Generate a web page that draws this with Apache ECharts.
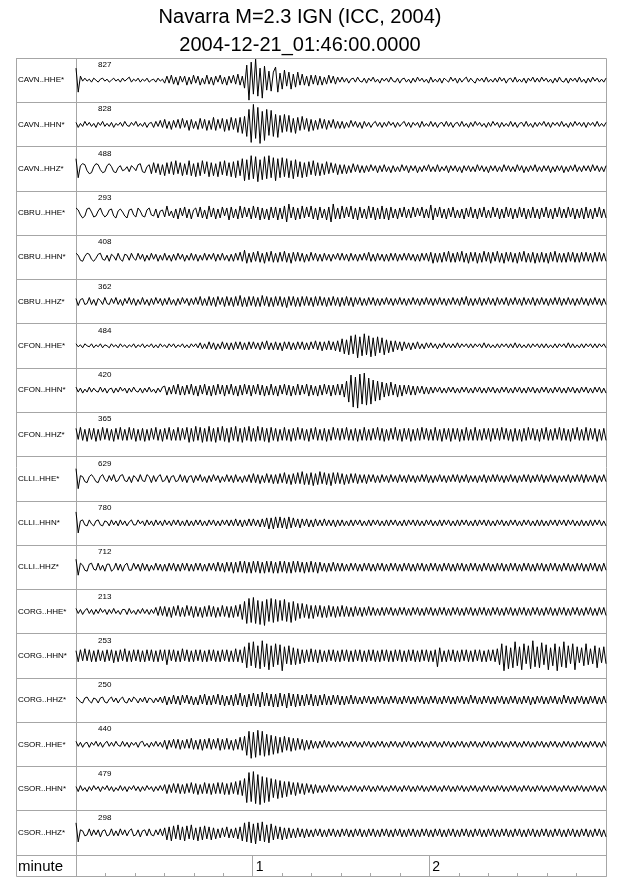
<!DOCTYPE html>
<html><head><meta charset="utf-8">
<script src="https://cdn.jsdelivr.net/npm/echarts@6/dist/echarts.min.js"></script>
<style>html,body{margin:0;padding:0;background:#fff}#c{width:640px;height:878px}</style>
</head><body><div id="c"></div>
<script>
const titleLines = ['Navarra M=2.3 IGN (ICC, 2004)', '2004-12-21_01:46:00.0000'];
const stations = ['CAVN..HHE*','CAVN..HHN*','CAVN..HHZ*','CBRU..HHE*','CBRU..HHN*','CBRU..HHZ*','CFON..HHE*','CFON..HHN*','CFON..HHZ*','CLLI..HHE*','CLLI..HHN*','CLLI..HHZ*','CORG..HHE*','CORG..HHN*','CORG..HHZ*','CSOR..HHE*','CSOR..HHN*','CSOR..HHZ*'];
const amplitudes = ['827','828','488','293','408','362','484','420','365','629','780','712','213','253','250','440','479','298'];
const timeRange = [0, 3];           // minutes
const minuteLabels = [1, 2];
const axisName = 'minute';

// trace samples (pixel-scale deflection, + = up)
const tCAVN_HHE = [12,-12,4,-1,2,-1,1,-2,2,0, -2,1,2,-1,1,-2,0,2,-1,1, -2,2,-1,1,3,-2,1,-1,2,-2, 1,-1,2,-2,0,1,-2,2,-1,1, -3,4,-3,5,-4,3,-5,4,-2,4, -5,3,-4,5,-3,4,-5,2,-4,5, -4,3,-5,4,-2,5,-4,3,-5,4, -3,5,-4,6,-5,4,-8,15,-20,18, -14,21,-16,12,-18,14,-10,9,-11,8, 13,-12,7,-9,10,-6,8,-9,6,-7, 8,-5,6,-5,4,-6,5,-4,5,-5, 4,-5,3,-4,5,-3,4,-4,3,-2, 3,-2,2,-3,1,2,-2,3,-1,-2, 2,-3,2,-1,3,-2,1,-3,2,-1, 2,-2,3,-1,-2,2,-3,1,2,-2, 1,-3,2,-2,3,-1,2,-2,1,-3, 3,-2,1,-2,2,-3,2,0,-2,3, -1,2,-3,2,-2,1,3,-2,2,-1, -3,2,-1,2,-2,3,-2,1,-2,2, -2,3,-1,2,-3,1,2,-2,3,-2, 1,-2,2,-3,2,-1,3,-2,2,-2, 3,-1,2,-2,1,-3,2,-2,3,-1, -2,2,-3,2,-1,2,-2,3,-2,1, -3,2,-2,3,-1,2,-2,1,-2,2];
const tCAVN_HHN = [2,-3,1,-2,3,-1,2,-2,1,-3, 2,-1,3,-2,1,-2,2,-3,1,-1, 2,-2,3,-1,-2,2,-1,3,-2,1, -2,2,-3,1,2,-3,3,-2,4,-3, 5,-4,3,-5,4,-3,5,-4,6,-3, 4,-6,5,-4,3,-5,6,-4,5,-6, 4,-5,7,-6,5,-4,6,-7,5,-6, 7,-5,6,-8,7,-9,8,-12,15,-18, 20,-14,17,-19,13,-16,15,-11,14,-12, 10,-13,9,-8,10,-7,9,-8,6,-9, 7,-6,8,-5,6,-7,5,-6,4,-5, 6,-4,5,-5,4,-3,5,-4,3,-4, 3,-4,2,-3,4,-2,3,-3,2,-4, 3,-2,2,-3,1,3,-2,2,-3,2, -2,3,-1,2,-3,2,-2,1,3,-2, 2,-3,2,-1,2,-3,3,-2,1,-2, 3,-2,2,-3,1,2,-2,3,-2,2, -3,1,2,-2,3,-2,1,-3,2,-2, 3,-1,2,-2,1,-3,2,-2,3,-1, 2,-3,2,-2,1,-2,3,-2,2,-3, 1,2,-2,3,-2,1,-3,2,-2,2, -1,3,-2,2,-3,2,-1,2,-2,3, -2,1,-3,2,-2,3,-1,2,-2,2, -3,2,-1,2,-2,3,-2,1,-2,2];
const tCAVN_HHZ = [10,-9,3,5,4,-2,-5,-4,2,5, 4,-1,-4,-3,3,5,2,-3,-4,1, 3,-2,-1,2,-3,3,1,-2,4,5, -3,-4,2,4,-5,6,-4,5,-6,4, -7,6,-5,7,-6,8,-5,6,-7,5, -6,8,-7,5,-8,6,-7,8,-5,7, -8,6,-7,5,-8,7,-6,8,-7,6, -8,7,-9,8,-7,10,-12,9,-11,13, -10,12,-13,9,-11,12,-10,13,-9,11, -12,10,-9,11,-8,10,-9,8,-10,9, -8,7,-9,6,-8,7,-6,8,-7,6, -7,5,-6,7,-5,6,-4,5,-6,4, -5,4,-5,3,-4,5,-3,4,-4,3, -4,3,-3,4,-2,3,-4,3,-3,4, -3,2,-4,3,-3,2,-3,4,-2,3, -4,3,-2,3,-4,2,-3,3,-2,4, -3,2,-3,4,-3,2,-2,3,-4,3, -2,3,-3,2,-4,3,-2,3,-3,2, -3,4,-2,3,-3,2,-4,3,-2,3, -3,2,-3,4,-2,3,-3,2,-3,4, -2,3,-4,2,-3,3,-2,4,-3,2, -3,3,-2,3,-4,2,-3,3,-2,3, -4,2,-3,3,-2,4,-3,2,-3,3, -2,3,-3,4,-2,3,-3,2,-3,3];
const tCBRU_HHE = [5,3,-2,-5,-3,4,5,1,-4,-3, 2,5,-1,-4,-2,3,4,-3,-5,2, 4,1,-3,-5,3,4,-2,-4,5,2, -3,-4,3,5,-2,-3,4,-5,2,3, -4,7,-3,2,-5,4,-6,5,-3,6, -5,4,-6,3,5,-4,6,-5,3,-6, 7,-4,5,-6,4,-5,6,-3,5,-7, 6,-5,4,-6,7,-5,6,-4,5,-6, 7,-5,6,-7,5,-6,4,-7,6,-5, 6,-7,5,-6,7,-9,9,-5,6,-7, 5,-6,7,-5,6,-4,7,-6,5,-7, 6,-5,4,-7,6,-9,9,-6,5,-6, 7,-5,6,-4,7,-6,5,-7,6,-5, 4,-6,7,-5,6,-7,5,-6,7,-6, 5,-7,6,-5,4,-6,5,-4,6,-5, 4,-5,6,-4,5,-3,6,-5,4,-5, 8,-7,5,-4,6,-5,4,-6,5,-4, 6,-5,3,-5,4,-6,5,-4,6,-5, 4,-6,5,-4,6,-5,3,-5,6,-4, 5,-6,4,-5,6,-4,5,-6,4,-5, 6,-4,5,-6,4,-5,6,-5,4,-6, 5,-4,6,-5,4,-6,5,-4,6,-5, 4,-5,6,-4,5,-6,4,-5,5,-6, 6,-5,4,-6,5,-4,6,-5,4,-5];
const tCBRU_HHN = [4,2,-3,-4,1,4,3,-2,-4,-1, 3,4,-2,-3,2,-4,3,1,-3,4, -2,-4,3,2,-3,4,-1,-3,4,-2, 3,-4,2,-3,4,-2,3,-4,2,-3, 4,-3,2,-4,3,-3,4,-2,3,-4, 2,-3,4,-3,3,-4,2,-3,4,-3, 3,-2,4,-4,3,-3,4,-3,2,-4, 3,-4,4,-3,5,-4,7,-6,4,-5, 5,-4,6,-5,4,-6,5,-4,6,-5, 4,-5,5,-4,6,-5,4,-6,5,-4, 5,-4,4,-5,3,-4,5,-3,4,-4, 3,-4,4,-3,3,-4,3,-2,4,-3, 4,-3,3,-4,4,-3,3,-4,3,-3, 4,-3,5,-4,3,-4,4,-3,3,-4, 3,-4,4,-3,4,-4,3,-3,4,-3, 4,-3,3,-4,3,-4,4,-3,4,-4, 5,-6,4,-5,4,-5,5,-4,6,-5, 4,-5,5,-4,6,-5,4,-6,5,-4, 5,-6,4,-5,6,-4,5,-6,5,-4, 6,-5,4,-6,5,-4,5,-5,4,-6, 5,-4,6,-5,4,-5,5,-6,4,-5, 5,-5,4,-6,5,-4,6,-5,4,-5, 4,-5,5,-4,5,-5,4,-5,5,-4, 5,-4,4,-5,5,-4,5,-4,4,-4];
const tCBRU_HHZ = [3,-4,2,3,-3,-2,4,-3,2,-4, 3,1,-3,4,-2,-3,3,-2,4,-3, 2,-4,3,-2,4,-3,3,-4,2,-3, 4,-3,2,-4,3,-3,4,-2,3,-4, 3,-3,4,-3,2,-4,3,-3,4,-2, 3,-4,3,-3,4,-3,5,-4,3,-4, 5,-4,4,-5,5,-3,4,-5,5,-4, 4,-5,5,-4,6,-5,4,-5,5,-4, 5,-5,4,-5,6,-4,5,-5,4,-5, 5,-4,5,-5,4,-6,5,-4,5,-5, 4,-5,5,-4,5,-4,4,-5,5,-4, 5,-4,4,-5,4,-4,5,-4,4,-5, 4,-4,5,-4,4,-5,4,-3,4,-4, 3,-4,4,-3,4,-4,3,-4,3,-3, 4,-3,3,-4,3,-3,4,-3,3,-4, 3,-3,4,-3,3,-4,3,-3,4,-3, 3,-4,3,-3,4,-3,3,-4,3,-3, 4,-3,3,-4,4,-3,5,-4,3,-4, 3,-3,4,-4,3,-3,4,-3,3,-4, 4,-3,3,-3,4,-4,3,-3,4,-3, 3,-4,4,-3,3,-3,4,-4,3,-3, 4,-3,3,-4,3,-3,4,-3,4,-4, 3,-3,4,-3,3,-4,3,-3,4,-3, 3,-4,3,-3,4,-3,3,-4,3,-3];
const tCFON_HHE = [2,-1,1,-2,2,0,-1,2,-2,1, -1,2,-2,1,0,-2,2,-1,1,-2, 2,-1,1,-2,1,-1,2,-2,1,-1, 2,-2,1,-1,2,-2,1,-2,2,-1, 1,-2,2,-1,2,-2,1,-1,2,-2, 1,-2,2,-1,2,-2,3,-3,2,-3, 4,-3,3,-4,2,-3,4,-3,3,-4, 3,-4,4,-3,4,-4,3,-4,4,-3, 4,-3,3,-4,4,-3,5,-4,3,-4, 4,-4,3,-5,4,-3,4,-4,3,-4, 4,-3,4,-4,3,-4,4,-3,5,-4, 4,-5,4,-4,5,-4,4,-5,5,-6, 7,-8,6,-9,10,-8,11,-12,9,-10, 12,-9,10,-11,8,-10,9,-7,8,-9, 6,-7,5,-6,5,-4,4,-5,4,-3, 3,-4,3,-3,4,-3,2,-3,3,-2, 3,-2,2,-3,2,-2,3,-2,2,-2, 2,-2,3,-2,2,-1,2,-2,2,-2, 2,-1,2,-2,3,-2,2,-2,1,-2, 2,-2,2,-1,2,-2,2,-2,3,-2, 2,-2,1,-2,2,-2,2,-1,2,-2, 2,-2,2,-2,1,-2,2,-2,2,-1, 2,-2,3,-2,2,-2,1,-2,2,-2, 2,-1,2,-2,2,-2,2,-1,2,-2];
const tCFON_HHN = [3,-2,2,-3,1,-2,3,-2,2,-1, -2,3,-2,2,-3,1,2,-3,2,-2, 3,-1,2,-3,2,-2,3,-1,-2,2, -3,2,-2,3,-2,1,-3,2,-2,3, 4,-5,3,-4,5,-4,6,-5,4,-5, 5,-4,6,-5,4,-6,5,-4,6,-5, 4,-6,5,-5,6,-4,5,-6,5,-4, 6,-5,4,-6,5,-5,6,-4,5,-6, 5,-4,6,-5,5,-6,4,-5,6,-5, 4,-6,5,-4,6,-5,5,-6,4,-5, 6,-5,5,-4,6,-6,5,-5,4,-6, 5,-5,6,-4,5,-6,5,-5,6,-5, 6,-7,9,-12,15,-17,13,-18,16,-14, 17,-15,12,-14,10,-11,9,-10,8,-7, 7,-6,8,-5,6,-7,5,-6,5,-4, 5,-5,4,-5,4,-3,4,-4,3,-4, 3,-3,3,-2,3,-3,2,-3,3,-2, 3,-3,2,-3,3,-2,3,-3,2,-3, 3,-2,3,-3,2,-3,3,-2,3,-3, 2,-3,3,-2,3,-3,2,-3,3,-2, 3,-3,2,-3,3,-2,3,-3,2,-3, 3,-2,3,-3,2,-3,3,-2,3,-3, 2,-3,3,-2,3,-3,2,-3,3,-2, 3,-3,2,-3,3,-2,3,-3,2,-3];
const tCFON_HHZ = [6,-5,7,-6,5,-7,6,-5,6,-7, 5,-6,7,-5,6,-6,5,-7,6,-5, 7,-6,5,-6,7,-5,6,-7,5,-6, 6,-7,5,-6,6,-5,7,-6,5,-7, 6,-5,7,-6,5,-6,7,-6,6,-5, 7,-8,6,-7,8,-6,7,-8,6,-7, 8,-7,6,-8,7,-6,8,-7,6,-8, 7,-6,8,-7,6,-8,7,-6,8,-7, 6,-7,8,-6,7,-7,6,-8,7,-6, 6,-7,5,-6,7,-6,5,-7,6,-6, 7,-5,6,-6,5,-7,6,-5,7,-6, 5,-6,6,-7,5,-6,7,-5,6,-6, 6,-5,7,-6,5,-6,6,-7,5,-6, 7,-6,5,-6,6,-5,7,-6,6,-7, 5,-6,6,-5,7,-6,5,-7,6,-5, 6,-7,5,-6,6,-6,7,-5,6,-6, 5,-6,7,-6,5,-7,6,-5,6,-7, 6,-5,6,-7,5,-6,7,-6,5,-6, 7,-6,5,-6,6,-5,6,-7,6,-5, 6,-6,7,-5,6,-6,5,-7,6,-6, 5,-7,6,-6,7,-5,6,-6,5,-7, 6,-5,7,-6,5,-6,6,-5,7,-6, 6,-6,5,-7,6,-5,7,-6,5,-6, 7,-6,6,-5,6,-7,5,-6,6,-6];
const tCLLI_HHE = [10,-10,3,2,-3,-4,2,4,1,-3, -4,2,4,-1,-3,3,-2,4,-3,-2, 3,4,-2,-3,2,-4,3,1,-3,4, -2,-3,4,2,-4,3,-3,2,4,-3, -2,3,-4,2,3,-3,-2,4,-3,3, -4,2,3,-4,3,-2,4,-3,2,-4, 3,-3,4,-2,3,-4,2,-3,4,-3, 3,-4,4,-3,2,-4,3,-3,4,-4, 5,-4,4,-5,3,-4,5,-4,4,-5, 4,-5,5,-4,6,-5,4,-6,5,-5, 6,-5,7,-6,5,-6,6,-7,5,-6, 7,-5,6,-6,5,-7,6,-5,6,-5, 5,-6,4,-5,5,-4,5,-5,4,-4, 4,-5,4,-3,4,-4,3,-4,4,-3, 3,-4,4,-3,3,-4,4,-3,3,-4, 4,-3,3,-4,3,-3,4,-3,4,-4, 3,-4,3,-3,4,-3,3,-4,3,-3, 4,-3,4,-4,3,-3,4,-4,3,-3, 3,-4,3,-3,4,-4,3,-3,4,-3, 4,-3,3,-4,3,-3,4,-3,3,-4, 3,-3,4,-3,4,-4,3,-3,4,-3, 4,-4,3,-3,4,-3,3,-4,3,-3, 3,-3,4,-4,3,-3,4,-3,4,-4, 4,-3,3,-3,4,-4,3,-3,4,-3];
const tCLLI_HHN = [11,-10,2,3,-2,-3,3,-1,-3,2, 3,-2,-3,2,1,-3,3,-2,2,-3, 3,-2,2,-3,1,3,-2,-2,3,-1, 2,-3,3,-2,2,-3,3,-2,2,-3, 3,-2,2,-3,3,-2,3,-3,2,-3, 3,-3,2,-3,3,-2,3,-3,2,-3, 3,-2,3,-3,2,-3,3,-2,3,-3, 3,-3,4,-3,3,-4,3,-3,4,-3, 4,-3,3,-4,4,-4,5,-6,5,-6, 6,-5,6,-5,5,-6,6,-5,5,-4, 4,-5,4,-3,4,-4,3,-4,4,-3, 3,-3,4,-3,3,-3,3,-4,3,-3, 3,-3,2,-3,3,-3,3,-2,3,-3, 2,-3,3,-3,3,-2,3,-3,2,-3, 3,-3,3,-2,3,-3,2,-3,3,-3, 3,-2,3,-3,3,-3,2,-3,3,-2, 3,-3,2,-3,3,-3,3,-2,3,-3, 2,-3,3,-3,3,-2,3,-3,2,-3, 3,-3,3,-2,3,-3,3,-3,2,-3, 3,-2,3,-3,2,-3,3,-2,3,-3, 2,-3,3,-2,3,-3,2,-3,3,-3, 3,-3,2,-3,3,-2,3,-3,3,-2, 3,-3,3,-2,3,-3,2,-3,3,-3, 2,-3,3,-3,3,-2,3,-3,2,-3];
const tCLLI_HHZ = [8,-8,4,2,-3,-4,3,4,-2,-3, 4,-3,2,-4,3,3,-4,-2,4,-3, 3,-4,2,4,-3,-3,4,-2,3,-4, 4,-3,3,-4,2,-3,4,-3,3,-4, 3,-4,4,-3,4,-4,3,-4,4,-3, 4,-4,3,-4,4,-3,4,-4,3,-4, 4,-3,4,-4,5,-4,4,-5,5,-4, 5,-6,5,-5,6,-5,6,-6,5,-6, 6,-5,6,-6,5,-6,6,-5,6,-6, 5,-6,6,-5,6,-6,5,-6,6,-5, 6,-5,5,-6,5,-5,6,-5,5,-6, 5,-4,4,-5,4,-4,5,-4,4,-4, 4,-4,3,-4,4,-3,4,-4,3,-4, 4,-3,4,-4,3,-4,4,-3,4,-4, 3,-4,4,-3,4,-4,3,-4,4,-3, 4,-4,3,-4,4,-3,4,-4,3,-4, 4,-3,4,-4,3,-4,4,-3,4,-4, 3,-4,4,-3,4,-4,3,-4,4,-3, 4,-4,3,-4,4,-3,4,-4,3,-4, 4,-3,4,-4,3,-4,4,-3,4,-4, 3,-4,4,-3,4,-4,3,-4,4,-3, 4,-4,3,-4,4,-3,4,-4,3,-4, 4,-3,4,-4,3,-4,4,-3,4,-4, 3,-4,4,-3,4,-4,3,-4,4,-3];
const tCORG_HHE = [3,-2,2,-3,1,3,-2,2,-3,2, -2,3,-1,2,-3,2,-2,3,-2,1, -3,2,2,-3,3,-2,1,-3,2,-2, 3,-2,2,-3,2,-2,4,-4,5,-4, 5,-5,4,-6,5,-4,6,-5,4,-5, 6,-4,5,-6,5,-5,4,-6,5,-5, 6,-5,5,-6,4,-5,6,-5,5,-6, 5,-6,6,-5,7,-8,10,-12,13,-11, 14,-12,11,-13,10,-14,12,-10,13,-11, 12,-10,11,-9,12,-10,9,-11,10,-9, 8,-7,8,-6,7,-7,6,-7,6,-5, 6,-6,5,-6,6,-5,5,-6,5,-5, 6,-5,5,-5,4,-5,5,-4,4,-5, 4,-4,5,-4,4,-4,3,-4,4,-4, 4,-3,4,-4,3,-4,4,-3,4,-4, 3,-4,4,-3,4,-4,3,-4,4,-3, 4,-4,3,-4,4,-3,4,-4,3,-4, 4,-3,4,-4,3,-4,4,-3,4,-4, 3,-4,4,-3,4,-4,3,-4,4,-3, 4,-4,3,-4,4,-3,4,-4,3,-4, 4,-3,4,-4,3,-4,4,-3,4,-4, 3,-4,4,-3,4,-4,3,-4,4,-3, 4,-4,3,-4,4,-3,4,-4,3,-4, 4,-3,4,-4,3,-4,4,-3,4,-4];
const tCORG_HHN = [5,-6,6,-5,7,-5,6,-6,5,-6, 6,-5,5,-6,6,-5,6,-7,5,-6, 6,-5,7,-6,5,-6,6,-5,6,-6, 5,-6,6,-5,6,-6,5,-6,6,-5, 6,-9,6,-5,6,-6,5,-6,7,-5, 6,-6,5,-6,6,-5,6,-6,5,-6, 6,-5,6,-6,5,-6,6,-5,6,-6, 5,-6,7,-6,6,-7,9,-12,13,-10, 14,-12,10,-13,15,-11,12,-14,10,-11, 12,-9,11,-15,9,-8,10,-9,8,-9, 7,-8,6,-7,6,-6,7,-6,6,-7, 6,-6,5,-6,6,-5,6,-6,5,-6, 6,-5,6,-6,5,-6,6,-5,6,-6, 5,-6,6,-5,6,-6,5,-6,6,-5, 6,-6,5,-6,6,-5,6,-6,5,-6, 6,-5,6,-6,5,-6,6,-5,6,-6, 5,-6,6,-11,8,-6,5,-6,6,-5, 6,-6,5,-6,6,-5,6,-6,5,-6, 6,-5,6,-6,5,-6,6,-5,6,-6, 7,-9,12,-15,10,-13,8,-12,14,-10, 9,-14,12,-8,10,-13,15,-11,9,-12, 13,-9,11,-14,8,-10,12,-15,9,-11, 14,-12,10,-8,12,-14,9,-7,8,-10, 12,-9,7,-8,10,-12,8,-7,9,-8];
const tCORG_HHZ = [3,1,-2,-3,2,3,-1,-3,2,1, -3,2,3,-2,-3,1,3,-2,2,-3, 1,3,-2,-3,2,-2,3,1,-3,2, -2,3,-3,2,1,-3,2,-2,3,-3, 4,-5,3,-4,5,-4,4,-5,5,-3, 5,-4,4,-5,3,-5,5,-4,6,-5, 4,-5,5,-4,6,-5,5,-6,4,-5, 5,-6,6,-5,7,-6,5,-7,6,-6, 7,-6,6,-7,8,-6,7,-6,6,-7, 6,-7,7,-6,6,-8,7,-6,6,-7, 6,-6,5,-6,6,-5,6,-6,5,-6, 5,-5,6,-5,4,-5,5,-4,5,-5, 4,-5,4,-4,5,-4,4,-4,3,-4, 4,-3,4,-4,3,-4,4,-3,4,-4, 3,-4,4,-3,4,-4,3,-4,4,-3, 4,-4,3,-4,4,-3,4,-4,3,-4, 4,-3,4,-4,3,-4,4,-3,4,-4, 3,-4,4,-3,4,-4,3,-4,5,-3, 4,-4,3,-4,4,-3,4,-4,3,-4, 4,-3,4,-4,3,-4,4,-3,4,-4, 3,-4,4,-3,4,-5,3,-4,4,-3, 4,-4,3,-4,4,-3,4,-4,3,-4, 5,-3,4,-4,3,-4,4,-3,4,-4, 3,-4,4,-3,4,-4,3,-4,4,-3];
const tCSOR_HHE = [3,-2,2,-3,1,2,-3,2,-1,3, -2,2,-3,1,3,-2,2,-2,3,-1, -2,3,-2,2,-3,2,-1,2,-3,2, 3,-2,1,-3,2,-2,3,-2,2,-3, 4,-5,4,-3,5,-4,5,-5,4,-4, 5,-4,6,-5,4,-5,5,-6,5,-4, 6,-5,5,-4,6,-6,5,-5,6,-5, 4,-6,5,-5,7,-6,8,-11,13,-14, 12,-13,14,-11,13,-12,10,-11,9,-10, 8,-9,7,-8,8,-6,7,-7,6,-6, 6,-5,5,-6,4,-5,4,-4,3,-4, 3,-3,4,-3,3,-3,2,-3,3,-2, 3,-3,2,-3,3,-2,3,-3,2,-3, 3,-2,3,-3,2,-3,3,-2,3,-3, 2,-3,3,-2,3,-3,2,-3,3,-2, 3,-3,2,-3,3,-2,3,-3,2,-3, 3,-2,3,-3,2,-3,3,-2,3,-3, 2,-3,3,-2,3,-3,2,-3,3,-2, 3,-3,2,-3,3,-2,3,-3,2,-3, 3,-2,3,-3,2,-3,3,-2,3,-3, 2,-3,3,-2,3,-3,2,-3,3,-2, 3,-3,2,-3,3,-2,3,-3,2,-3, 3,-2,3,-3,2,-3,3,-2,3,-3, 2,-3,3,-2,3,-3,2,-3,3,-2];
const tCSOR_HHN = [2,-3,3,-2,1,-3,2,-2,3,-1, 2,-3,2,-1,3,-2,2,-3,1,-2, 3,-2,2,-3,2,-1,3,-2,2,-3, 2,-2,3,-1,2,-3,2,-2,3,-2, 4,-5,4,-4,5,-4,5,-5,4,-5, 5,-4,6,-5,5,-6,4,-5,6,-5, 5,-6,5,-5,6,-5,6,-6,5,-6, 6,-5,7,-6,8,-7,10,-14,16,-13, 17,-15,14,-16,12,-14,11,-13,10,-9, 9,-10,8,-9,7,-8,7,-6,6,-7, 6,-5,5,-6,5,-4,4,-5,4,-4, 3,-4,3,-3,4,-3,3,-3,3,-2, 3,-3,2,-3,3,-2,3,-3,2,-3, 3,-2,3,-3,2,-3,3,-2,3,-3, 2,-3,3,-2,3,-3,2,-3,3,-2, 3,-3,2,-3,3,-2,3,-3,2,-3, 3,-2,3,-3,2,-3,3,-2,3,-3, 2,-3,3,-2,3,-3,2,-3,3,-2, 3,-3,2,-3,3,-2,3,-3,2,-3, 3,-2,3,-3,2,-3,3,-2,3,-3, 2,-3,3,-2,3,-3,2,-3,3,-2, 3,-3,2,-3,3,-2,3,-3,2,-3, 3,-2,3,-3,2,-3,3,-2,3,-3, 2,-3,3,-2,3,-3,2,-3,3,-2];
const tCSOR_HHZ = [10,-9,3,2,-3,-2,4,-3,3,-2, 3,-4,2,3,-3,-2,4,-3,2,-3, 4,-2,3,-3,2,4,-3,-2,3,-4, 2,3,-3,4,-2,-3,3,-2,4,-3, 5,-7,6,-8,7,-6,8,-7,6,-8, 7,-6,8,-7,5,-8,6,-7,7,-6, 6,-7,5,-6,4,-5,5,-4,6,-5, 4,-5,5,-6,6,-8,10,-9,11,-10, 9,-11,10,-8,11,-9,8,-10,9,-7, 7,-6,6,-7,5,-6,5,-5,4,-5, 5,-4,4,-5,4,-4,3,-4,4,-3, 4,-4,3,-4,4,-3,4,-4,3,-4, 4,-3,4,-4,3,-4,4,-3,4,-4, 3,-4,4,-3,4,-4,3,-4,4,-3, 4,-4,3,-4,4,-3,4,-4,3,-4, 4,-3,4,-4,3,-4,4,-3,4,-4, 3,-4,4,-3,4,-4,3,-4,4,-3, 4,-4,3,-4,4,-3,4,-4,3,-4, 4,-3,4,-4,3,-4,4,-3,4,-4, 3,-4,4,-3,4,-4,3,-4,4,-3, 4,-4,3,-4,4,-3,4,-4,3,-4, 4,-3,4,-4,3,-4,4,-3,4,-4, 3,-4,4,-3,4,-4,3,-4,4,-3, 4,-4,3,-4,4,-3,4,-4,3,-4];

const traces = [tCAVN_HHE,tCAVN_HHN,tCAVN_HHZ,tCBRU_HHE,tCBRU_HHN,tCBRU_HHZ,tCFON_HHE,tCFON_HHN,tCFON_HHZ,tCLLI_HHE,tCLLI_HHN,tCLLI_HHZ,tCORG_HHE,tCORG_HHN,tCORG_HHZ,tCSOR_HHE,tCSOR_HHN,tCSOR_HHZ];

// layout
const BOX_L = 16, PLOT_L = 76, PLOT_R = 606, PLOT_T = 58, PLOT_B = 855, AXIS_B = 876;
const N = stations.length;
const ROW = (PLOT_B - PLOT_T) / N;
const GRAY = '#a6a6a6';
const FONT = '"Liberation Sans", Arial, Helvetica, sans-serif';

const chart = echarts.init(document.getElementById('c'), null, {renderer: 'canvas'});

const series = traces.map((tr, k) => {
  const base = (N - 1 - k) + 0.5;
  const span = timeRange[1] - timeRange[0];
  return {
    type: 'line', name: stations[k], xAxisIndex: 0, yAxisIndex: 0,
    showSymbol: false, symbol: 'none', clip: false, silent: true,
    lineStyle: {color: '#000', width: 1},
    data: tr.map((a, i) => [timeRange[0] + i * span / (tr.length - 1), base + a / ROW])
  };
});

const graphics = [
  {type: 'rect', shape: {x: BOX_L + 0.5, y: PLOT_T + 0.5, width: PLOT_R - BOX_L, height: AXIS_B - PLOT_T}, style: {fill: 'none', stroke: GRAY, lineWidth: 1}, z: 1},
  {type: 'line', shape: {x1: BOX_L, y1: PLOT_B + 0.5, x2: PLOT_R, y2: PLOT_B + 0.5}, style: {stroke: GRAY, lineWidth: 1}, z: 1},
  {type: 'line', shape: {x1: PLOT_L + 0.5, y1: PLOT_T, x2: PLOT_L + 0.5, y2: AXIS_B}, style: {stroke: GRAY, lineWidth: 1}, z: 1},
  {type: 'text', x: BOX_L + 2, y: (PLOT_B + AXIS_B) / 2 + 1, style: {text: axisName, fontSize: 15, fontFamily: FONT, fill: '#000', verticalAlign: 'middle', textAlign: 'left'}, z: 5}
];
amplitudes.forEach((t, k) => {
  graphics.push({type: 'text', x: 98, y: PLOT_T + k * ROW + 7, style: {text: t, fontSize: 8, fontFamily: FONT, fill: '#000', verticalAlign: 'middle', textAlign: 'left'}, z: 5});
});

chart.setOption({
  animation: false,
  backgroundColor: '#fff',
  title: [
    {text: titleLines[0], left: 295, top: 2, textAlign: 'center', textStyle: {fontSize: 20, fontWeight: 'normal', color: '#000', fontFamily: FONT}},
    {text: titleLines[1], left: 295, top: 30, textAlign: 'center', textStyle: {fontSize: 20, fontWeight: 'normal', color: '#000', fontFamily: FONT}}
  ],
  grid: [
    {left: PLOT_L, top: PLOT_T, width: PLOT_R - PLOT_L, height: PLOT_B - PLOT_T, show: false, outerBoundsMode: 'none', containLabel: false},
    {left: BOX_L, top: PLOT_T, width: PLOT_L - BOX_L, height: PLOT_B - PLOT_T, show: false, outerBoundsMode: 'none', containLabel: false},
    {left: PLOT_L, top: PLOT_B, width: PLOT_R - PLOT_L, height: AXIS_B - PLOT_B, show: false, outerBoundsMode: 'none', containLabel: false}
  ],
  xAxis: [
    {gridIndex: 0, type: 'value', min: timeRange[0], max: timeRange[1], show: false},
    {gridIndex: 1, type: 'value', min: 0, max: 1, show: false},
    {gridIndex: 2, type: 'value', min: timeRange[0], max: timeRange[1], interval: 1, position: 'bottom',
     axisLine: {show: true, lineStyle: {color: GRAY, width: 1}},
     axisTick: {show: true, inside: true, length: AXIS_B - PLOT_B, lineStyle: {color: GRAY, width: 1}},
     minorTick: {show: true, splitNumber: 6, length: 3, lineStyle: {color: GRAY, width: 1}},
     splitLine: {show: false},
     axisLabel: {show: true, inside: true, margin: 2, align: 'left', padding: [0, 0, 0, 3], fontSize: 14, color: '#000', fontFamily: FONT,
       formatter: v => minuteLabels.indexOf(v) >= 0 ? String(v) : ''}}
  ],
  yAxis: [
    {gridIndex: 0, type: 'value', min: 0, max: N, show: false},
    {gridIndex: 0, type: 'category', data: stations, inverse: true, position: 'left',
     axisLine: {show: false}, axisTick: {show: false, interval: 0}, axisLabel: {show: false, interval: 0},
     splitLine: {show: true, interval: 0, lineStyle: {color: GRAY, width: 1}}},
    {gridIndex: 1, type: 'category', data: stations, inverse: true, position: 'left',
     axisLine: {show: false}, axisTick: {show: false, interval: 0},
     axisLabel: {show: true, interval: 0, inside: true, margin: 2, align: 'left', fontSize: 8, color: '#000', fontFamily: FONT},
     splitLine: {show: true, interval: 0, lineStyle: {color: GRAY, width: 1}}},
    {gridIndex: 2, type: 'value', min: 0, max: 1, show: false}
  ],
  graphic: graphics,
  series: series
});
</script>
</body></html>
